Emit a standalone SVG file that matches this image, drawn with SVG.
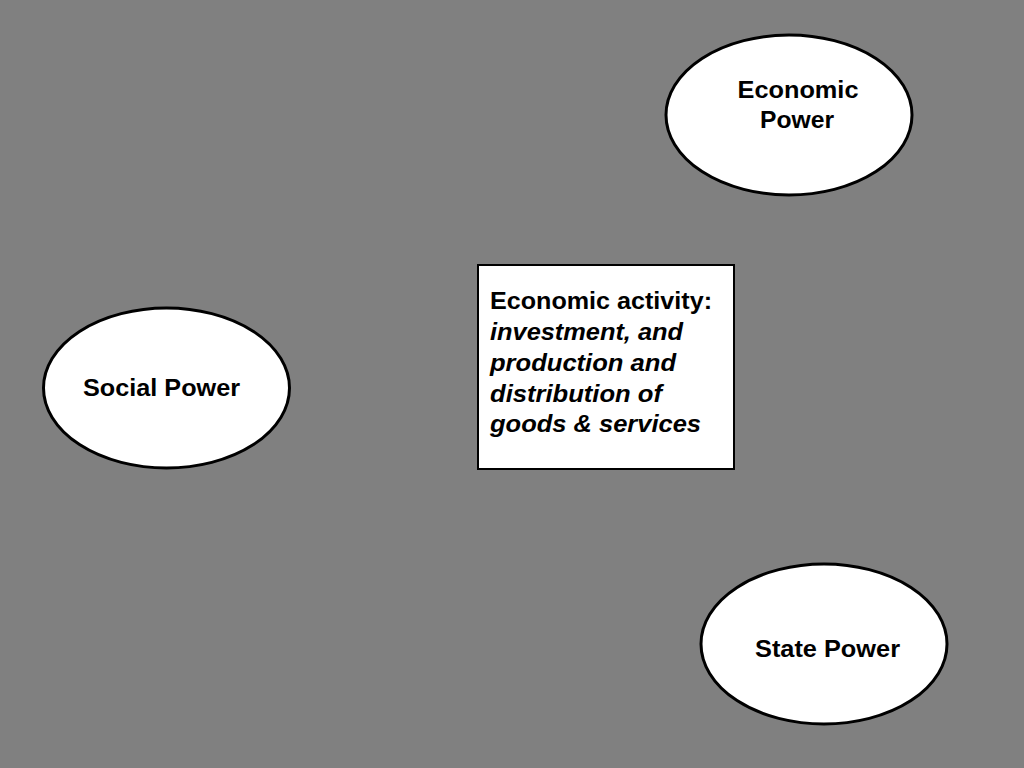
<svg xmlns="http://www.w3.org/2000/svg" width="1024" height="768" viewBox="0 0 1024 768">
<style>
.node{fill:#ffffff;stroke:#000000;stroke-width:3}
.box{fill:#ffffff;stroke:#000000;stroke-width:2}
.t{font-family:"Liberation Sans",Arial,sans-serif;font-size:24px;font-weight:bold;fill:#000000}
.c{text-anchor:middle}
.i{font-style:italic}
</style>
<rect x="0" y="0" width="1024" height="768" fill="#808080"/>
<g id="connectors"></g>
<g id="economic-power">
<ellipse class="node" cx="789" cy="115" rx="123" ry="80"/>
<text class="t c" x="798" y="98" textLength="121" lengthAdjust="spacingAndGlyphs">Economic</text>
<text class="t c" x="797" y="128" textLength="74" lengthAdjust="spacingAndGlyphs">Power</text>
</g>
<g id="social-power">
<ellipse class="node" cx="166.5" cy="388" rx="123" ry="80"/>
<text class="t c" x="161.5" y="396" textLength="157" lengthAdjust="spacingAndGlyphs">Social Power</text>
</g>
<g id="state-power">
<ellipse class="node" cx="824" cy="644" rx="123" ry="80"/>
<text class="t c" x="827.5" y="657" textLength="145" lengthAdjust="spacingAndGlyphs">State Power</text>
</g>
<g id="economic-activity">
<rect class="box" x="478" y="265" width="256" height="204"/>
<text class="t" x="490" y="309" textLength="222" lengthAdjust="spacingAndGlyphs">Economic activity:</text>
<text class="t i" x="490" y="340" textLength="193" lengthAdjust="spacingAndGlyphs">investment, and</text>
<text class="t i" x="490" y="371" textLength="186" lengthAdjust="spacingAndGlyphs">production and</text>
<text class="t i" x="490" y="402" textLength="172" lengthAdjust="spacingAndGlyphs">distribution of</text>
<text class="t i" x="490" y="432" textLength="211" lengthAdjust="spacingAndGlyphs">goods &amp; services</text>
</g>
</svg>
